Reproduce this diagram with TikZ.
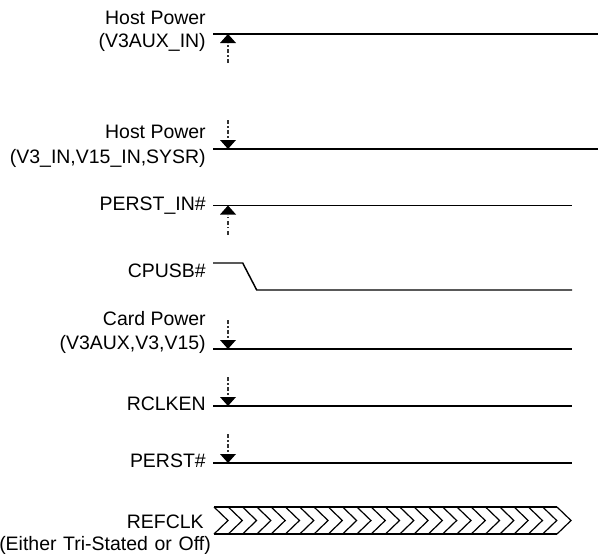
\documentclass[tikz,border=0pt]{standalone}
\usepackage{fontspec}
\setmainfont{Liberation Sans}
\begin{document}
\begin{tikzpicture}[x=0.75pt,y=-0.75pt,
  lbl/.style={anchor=base east, inner sep=0pt, font=\fontsize{14.6}{17}\selectfont},
  sig/.style={line width=1.1pt, draw=black},
  guide/.style={line width=0.8pt, draw=black!80, dash pattern=on 3pt off 1.8pt on 0.9pt off 1.8pt},
  uptri/.style={fill=black},
  clk/.style={line width=0.9pt, draw=black}]
\useasboundingbox (0,0) rectangle (598,553);

% labels
\node[lbl] (hp1a) at (206,24.5) {Host Power};
\node[lbl] (hp1b) at (206,47.5) {(V3AUX\_IN)};
\node[lbl] (hp2a) at (206,138.5) {Host Power};
\node[lbl] (hp2b) at (206,163.5) {(V3\_IN,V15\_IN,SYSR)};
\node[lbl] (pin) at (206,210.5) {PERST\_IN\#};
\node[lbl] (cpu) at (206,277.5) {CPUSB\#};
\node[lbl] (cpa) at (206,325.5) {Card Power};
\node[lbl] (cpb) at (206,349.5) {(V3AUX,V3,V15)};
\node[lbl] (rck) at (206,410.5) {RCLKEN};
\node[lbl] (prs) at (206,467) {PERST\#};
\node[lbl] (rfa) at (204,528.5) {REFCLK};
\node[lbl] (rfb) at (211,550) {\spaceskip=5pt plus 1pt (Either Tri-Stated or Off)};

% signal lines
\coordinate (l1s) at (213,34);   \coordinate (l1e) at (598,34);
\coordinate (l2s) at (213,149);  \coordinate (l2e) at (598,149);
\coordinate (l3s) at (213,205.5);\coordinate (l3e) at (572,205.5);
\coordinate (l5s) at (213,349);  \coordinate (l5e) at (572,349);
\coordinate (l6s) at (213,406);  \coordinate (l6e) at (572,406);
\coordinate (l7s) at (213,463);  \coordinate (l7e) at (572,463);
\draw[sig] (l1s) -- (l1e);
\draw[sig] (l2s) -- (l2e);
\draw[sig] (l3s) -- (l3e);
\draw[sig] (l5s) -- (l5e);
\draw[sig] (l6s) -- (l6e);
\draw[sig] (l7s) -- (l7e);

% CPUSB#
\coordinate (c0) at (213,263);
\coordinate (c1) at (242.7,263);
\coordinate (c2) at (256.7,290);
\coordinate (c3) at (572,290);
\draw[sig] (c0) -- (c1) -- (c2) -- (c3);

% event markers: dotted guide + filled triangle touching the signal line
\foreach \n/\y in {a1/34, a3/205.5}{
  \coordinate (\n t) at (228,\y);
  \coordinate (\n b) at (228,\y+9);
  \coordinate (\n f) at (228,\y+29);
  \draw[guide] (\n f) -- (\n b);
  \fill[uptri] (\n t) -- ++(-8,9) -- ++(16,0) -- cycle;
}
\foreach \n/\y in {a2/149, a5/349, a6/406, a7/463}{
  \coordinate (\n t) at (228,\y);
  \coordinate (\n b) at (228,\y-9);
  \coordinate (\n f) at (228,\y-29);
  \draw[guide] (\n f) -- (\n b);
  \fill[uptri] (\n t) -- ++(-8,-9) -- ++(16,0) -- cycle;
}

% REFCLK band
\coordinate (r0) at (214,507);
\coordinate (r1) at (557,507);
\coordinate (r2) at (214,534);
\coordinate (r3) at (557,534);
\draw[clk] (r0) -- (r1);
\draw[clk] (r2) -- (r3);
\foreach \i in {0,...,24}{
  \draw[clk, line join=miter] ({214+\i*14.2917},507) -- ++(14,13.5) -- ++(-14,13.5);
}
\end{tikzpicture}
\end{document}
